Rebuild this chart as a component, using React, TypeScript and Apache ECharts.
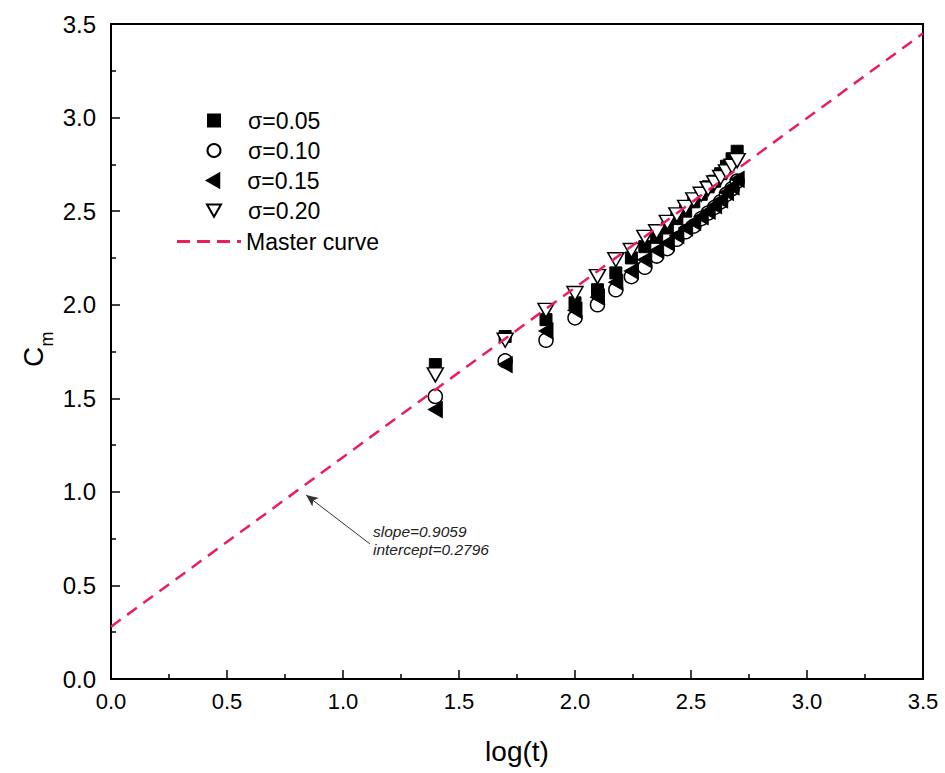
import React, { useEffect, useRef } from "react";
import * as echarts from "echarts";

// log(t) positions shared by all series
const logT = [1.398, 1.699, 1.875, 2.0, 2.097, 2.176, 2.243, 2.301, 2.352, 2.398, 2.439, 2.477, 2.512, 2.544, 2.574, 2.602, 2.628, 2.653, 2.677, 2.699];

const cmSigma005 = [1.68, 1.83, 1.92, 2.01, 2.08, 2.17, 2.25, 2.31, 2.36, 2.41, 2.46, 2.50, 2.55, 2.59, 2.63, 2.66, 2.70, 2.74, 2.78, 2.82];
const cmSigma010 = [1.51, 1.70, 1.81, 1.93, 2.00, 2.08, 2.15, 2.20, 2.26, 2.30, 2.35, 2.39, 2.42, 2.46, 2.49, 2.52, 2.55, 2.59, 2.62, 2.66];
const cmSigma015 = [1.44, 1.68, 1.86, 1.97, 2.04, 2.12, 2.18, 2.24, 2.29, 2.33, 2.37, 2.41, 2.44, 2.47, 2.50, 2.53, 2.56, 2.60, 2.63, 2.67];
const cmSigma020 = [1.625, 1.81, 1.97, 2.06, 2.15, 2.24, 2.29, 2.36, 2.39, 2.44, 2.48, 2.52, 2.56, 2.59, 2.62, 2.65, 2.68, 2.71, 2.74, 2.77];

// master curve end points (slope 0.9059, intercept 0.2796)
const masterX = [0, 3.5];
const masterY = [0.2796, 3.4503];

// annotation arrow (tail, head) in data coordinates
const arrowX = [1.116, 0.841];
const arrowY = [0.722, 0.983];

const seriesNames = ["σ=0.05", "σ=0.10", "σ=0.15", "σ=0.20"];
const masterName = "Master curve";
const annotationLines = ["slope=0.9059", "intercept=0.2796"];
const yTitleMain = "C";
const yTitleSub = "m";

const xTickLabels = ["0.0", "0.5", "1.0", "1.5", "2.0", "2.5", "3.0", "3.5"];
const yTickLabels = ["0.0", "0.5", "1.0", "1.5", "2.0", "2.5", "3.0", "3.5"];

const FONT = "'Liberation Sans', Arial, sans-serif";
const RED = "#EC1E5A";

const legendIcons = [
  "rect",
  "circle",
  "path://M14,0L14,16L0,8Z",
  "path://M0,0L16,0L8,14Z",
];
const dashIcon = "path://M0,0H13V3H0Z M20,0H33V3H20Z M40,0H53V3H40Z M60,0H64V3H60Z";

function pairs(xs: number[], ys: number[]) {
  return xs.map((x, i) => [x, ys[i]]);
}

export default function App() {
  const ref = useRef<HTMLDivElement>(null);

  useEffect(() => {
    if (!ref.current) return;
    const chart = echarts.init(ref.current, undefined, { renderer: "svg" });

    const legendCenters = [122, 152, 182, 212];
    const legendSizes = [12, 13, 14, 14];
    const legends: any[] = seriesNames.map((n, i) => ({
      data: [{ name: n, icon: legendIcons[i] }],
      orient: "vertical",
      left: 213 - legendSizes[i] / 2,
      top: legendCenters[i] - 13,
      padding: 0,
      itemWidth: legendSizes[i],
      itemHeight: legendSizes[i],
      selectedMode: false,
      textStyle: { fontSize: 23, fontFamily: FONT, color: "#000", padding: [0, 0, 0, 29 - legendSizes[i] / 2] },
    }));
    legends.push({
      data: [{ name: masterName, icon: dashIcon, itemStyle: { color: RED } }],
      orient: "vertical",
      left: 177,
      top: 243 - 13,
      padding: 0,
      itemWidth: 64,
      itemHeight: 3,
      selectedMode: false,
      textStyle: { fontSize: 23, fontFamily: FONT, color: "#000" },
    });

    const axisCommon = {
      type: "value",
      min: 0,
      max: 3.5,
      interval: 0.5,
      axisLine: { show: true, onZero: false, lineStyle: { color: "#000", width: 2 } },
      axisTick: { show: true, inside: true, length: 9, lineStyle: { color: "#000", width: 1.5 } },
      minorTick: { show: true, splitNumber: 2, length: 5, lineStyle: { color: "#000", width: 1.5 } },
      splitLine: { show: false },
    };

    const option: any = {
      animation: false,
      backgroundColor: "#fff",
      grid: { left: 111, right: 22, top: 24, bottom: 94, show: true, borderColor: "#000", borderWidth: 2, backgroundColor: "transparent" },
      legend: legends,
      xAxis: {
        ...axisCommon,
        name: "log(t)",
        nameLocation: "middle",
        nameGap: 58,
        nameTextStyle: { fontSize: 28, fontFamily: FONT, color: "#000" },
        axisLabel: {
          fontSize: 22,
          fontFamily: FONT,
          color: "#000",
          margin: 11,
          formatter: (v: number) => xTickLabels[Math.round(v / 0.5)],
        },
      },
      yAxis: {
        ...axisCommon,
        axisLabel: {
          fontSize: 24,
          fontFamily: FONT,
          color: "#000",
          margin: 15,
          formatter: (v: number) => yTickLabels[Math.round(v / 0.5)],
        },
      },
      series: [
        {
          name: seriesNames[0],
          type: "scatter",
          symbol: "rect",
          symbolSize: 12,
          itemStyle: { color: "#000", borderColor: "#000", borderWidth: 1, opacity: 1 },
          data: pairs(logT, cmSigma005),
          z: 2,
        },
        {
          name: seriesNames[1],
          type: "scatter",
          symbol: "circle",
          symbolSize: 14,
          itemStyle: { color: "#fff", borderColor: "#000", borderWidth: 1.5, opacity: 1 },
          data: pairs(logT, cmSigma010),
          z: 2,
        },
        {
          name: seriesNames[2],
          type: "scatter",
          symbol: "triangle",
          symbolSize: [16, 14],
          symbolRotate: 90,
          itemStyle: { color: "#000", borderColor: "#000", borderWidth: 1, opacity: 1 },
          data: pairs(logT, cmSigma015),
          z: 2,
        },
        {
          name: seriesNames[3],
          type: "scatter",
          symbol: "triangle",
          symbolSize: [16, 14],
          symbolRotate: 180,
          itemStyle: { color: "#fff", borderColor: "#000", borderWidth: 1.5, opacity: 1 },
          data: pairs(logT, cmSigma020),
          z: 2,
        },
        {
          name: masterName,
          type: "line",
          symbol: "none",
          showSymbol: false,
          lineStyle: { color: RED, width: 2.5, type: [12, 8] },
          itemStyle: { color: RED },
          data: pairs(masterX, masterY),
          z: 4,
          markLine: {
            silent: true,
            symbol: ["none", "arrow"],
            symbolSize: [8, 12],
            lineStyle: { color: "#333", width: 1, type: "solid" },
            label: { show: false },
            data: [[{ coord: [arrowX[0], arrowY[0]] }, { coord: [arrowX[1], arrowY[1]] }]],
          },
        },
      ],
      graphic: [
        {
          type: "text",
          left: 373,
          top: 522,
          style: {
            text: annotationLines.join("\n"),
            font: "italic 15.5px " + FONT,
            lineHeight: 18,
            fill: "#222",
          },
        },
        {
          type: "text",
          x: 33,
          y: 357,
          rotation: Math.PI / 2,
          style: {
            text: yTitleMain,
            font: "28px " + FONT,
            fill: "#000",
            align: "center",
            verticalAlign: "middle",
          },
        },
        {
          type: "text",
          x: 47,
          y: 339,
          rotation: Math.PI / 2,
          style: {
            text: yTitleSub,
            font: "18px " + FONT,
            fill: "#000",
            align: "center",
            verticalAlign: "middle",
          },
        },
      ],
    };

    chart.setOption(option);
    return () => chart.dispose();
  }, []);

  return <div ref={ref} style={{ width: 945, height: 773, position: "absolute", left: 0, top: 0 }} />;
}
